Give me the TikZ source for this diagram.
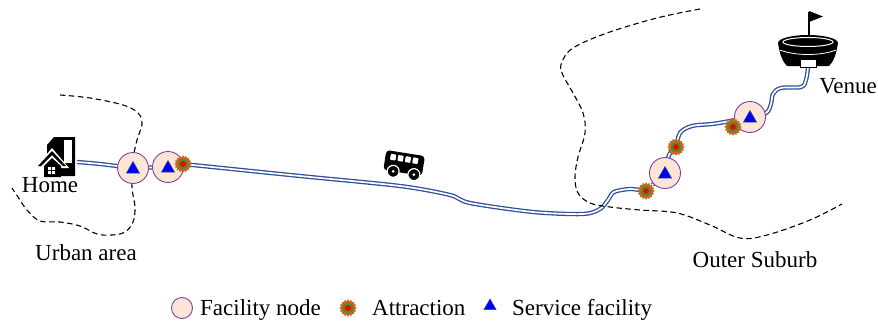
\documentclass[tikz,border=0pt]{standalone}
\usepackage{fontspec}
\setmainfont{Liberation Serif}
\usepackage{xcolor}
\usetikzlibrary{shapes.geometric,backgrounds}

\definecolor{roadblue}{HTML}{30509A}
\definecolor{facfill}{HTML}{FBE6D6}
\definecolor{facedge}{HTML}{8040A8}
\definecolor{servblue}{HTML}{0000F0}
\definecolor{servedge}{HTML}{2848A0}
\definecolor{gearorange}{HTML}{D0651E}
\definecolor{geargreen}{HTML}{4E8A30}

\tikzset{
	road/.style={draw=roadblue, double=white, double distance=1.7pt, line width=1.3pt},
	border/.style={dash pattern=on 5.5pt off 3.5pt, line width=1.1pt},
	txt/.style={font=\fontsize{23}{27}\selectfont, inner sep=0pt},
	facbase/.style={circle, draw=facedge, fill=facfill, line width=0.9pt, minimum size=31pt, inner sep=0pt},
	facility/.style={facbase, path picture={
		\filldraw[fill=servblue, draw=servedge, line width=0.5pt]
		([yshift=6.5pt]path picture bounding box.center)
		-- ([xshift=-6.5pt,yshift=-5pt]path picture bounding box.center)
		-- ([xshift=6.5pt,yshift=-5pt]path picture bounding box.center) -- cycle;}},
	attraction/.style={star, star points=16, star point ratio=1.25, fill=gearorange, minimum size=17.5pt, inner sep=0pt,
		path picture={
		\fill[geargreen] (path picture bounding box.center) circle (5.4pt);
		\fill[red] (path picture bounding box.center) circle (2.9pt);}},
	servmark/.style={regular polygon, regular polygon sides=3, fill=servblue, draw=servedge, line width=0.5pt, minimum size=14pt, inner sep=0pt}
}

\begin{document}
\begin{tikzpicture}[x=1pt, y=-1pt]
	\useasboundingbox (0,0) rectangle (878,324);

	% home: tower block and house
	\fill (47,145) -- (54,137) -- (75,137) -- (75,176) -- (47,176) -- cycle;
	\fill[white] (64,140) rectangle (72,163);
	\fill[white] (35,168) -- (52,148) -- (69,168) -- cycle;
	\fill (38,166) -- (52,151) -- (66,166) -- (63,166) -- (52,155) -- (41,166) -- cycle;
	\fill (44,166) -- (52,158) -- (61,166) -- (61,177) -- (44,177) -- cycle;
	\fill[white] (48,167) rectangle (51,170) (52,167) rectangle (55,170)
		(48,171) rectangle (51,174) (52,171) rectangle (55,174);
	\coordinate (homegate) at (77,162);
	\node[txt, anchor=base] (home) at (50,192) {Home};

	% venue: stadium with flag
	\fill (778,43) .. controls (780,56) and (783,62) .. (787,66) -- (829,66) .. controls (833,62) and (836,56) .. (838,43) -- cycle;
	\fill (808,43) ellipse (30pt and 8pt);
	\draw[white, line width=1pt] (808,42) ellipse (25pt and 4.5pt);
	\draw[white, line width=0.8pt] (780,50) .. controls (795,56) and (821,56) .. (836,50);
	\filldraw[fill=white, draw=black, line width=1pt] (800,59) rectangle (816,67);
	\draw[line width=1.5pt] (809,36) -- (809,12);
	\fill (809,11) -- (823,16.5) -- (809,22) -- cycle;
	\coordinate (venuegate) at (808,67);
	\node[txt, anchor=base] (venue) at (848,93) {Venue};

	% bus
	\begin{scope}[shift={(404,167)}, rotate=-9]
		\fill[rounded corners=3.5pt] (-20,-14) rectangle (19,6);
		\fill[white, rounded corners=0.8pt] (-15,-11) rectangle (-9.5,-5) (-7.5,-11) rectangle (-2,-5)
			(0,-11) rectangle (5.5,-5) (7.5,-11) rectangle (13,-5);
		\filldraw[fill=black, draw=white, line width=1.2pt] (-10,6) circle (6pt) (11,6) circle (6pt);
		\fill[white] (-10,6) circle (1.5pt) (11,6) circle (1.5pt);
	\end{scope}

	% facility nodes and attractions
	\node[facility] (f1) at (133,168) {};
	\node[facility] (f2) at (168,167) {};
	\node[facility] (f3) at (665,173) {};
	\node[facility] (f4) at (750,117) {};
	\node[attraction] (a1) at (183,164) {};
	\node[attraction] (a2) at (646,191) {};
	\node[attraction] (a3) at (676,147) {};
	\node[attraction] (a4) at (733,127) {};

	\node[txt, anchor=base] (urban) at (86,260) {Urban area};
	\node[txt, anchor=base] (suburb) at (755,267) {Outer Suburb};

	% legend
	\node[facbase, minimum size=21pt] (lgfac) at (182,308) {};
	\node[txt, anchor=base west] (lgfactxt) at (200,315) {Facility node};
	\node[attraction] (lgattr) at (348,308) {};
	\node[txt, anchor=base west] (lgattrtxt) at (372,315) {Attraction};
	\node[servmark] (lgserv) at (490,306) {};
	\node[txt, anchor=base west] (lgservtxt) at (512,315) {Service facility};

	\begin{pgfonlayer}{background}
		% roads
		\draw[road] plot[smooth, tension=0.6] coordinates {(homegate) (100,164) (f1)};
		\draw[road] (f1) -- (f2) -- (a1);
		\draw[road] plot[smooth, tension=0.5] coordinates {(a1) (300,176) (400,186) (450,195) (470,203)
			(533,212) (583,214) (600,209) (608,200) (614,192) (630,189) (a2)};
		\draw[road] (a2) -- (f3);
		\draw[road] plot[smooth, tension=0.6] coordinates {(f3) (669,155) (a3) (680,133) (692,126) (712,124) (730,121) (f4)};
		\draw[road] plot[smooth, tension=0.6] coordinates {(f4) (766,113) (771,104) (773,94) (781,88) (801,87) (806,80) (venuegate)};
		% area borders
		\draw[border] plot[smooth, tension=0.6] coordinates {(60,95) (90,98) (123,105) (138,113) (142,124) (137,140)
			(133,160) (132,187) (135,207) (133,222) (125,232) (112,235) (97,234) (80,226) (60,222) (40,221)
			(27,210) (18,197) (12,188)};
		\draw[border] plot[smooth, tension=0.6] coordinates {(700,9) (657,18) (607,33) (573,48) (562,62) (562,73)
			(573,93) (583,113) (585,133) (578,157) (575,177) (578,193) (590,203) (610,207) (640,210) (677,213)
			(710,225) (740,238) (767,235) (810,220) (842,204)};
	\end{pgfonlayer}
\end{tikzpicture}
\end{document}
